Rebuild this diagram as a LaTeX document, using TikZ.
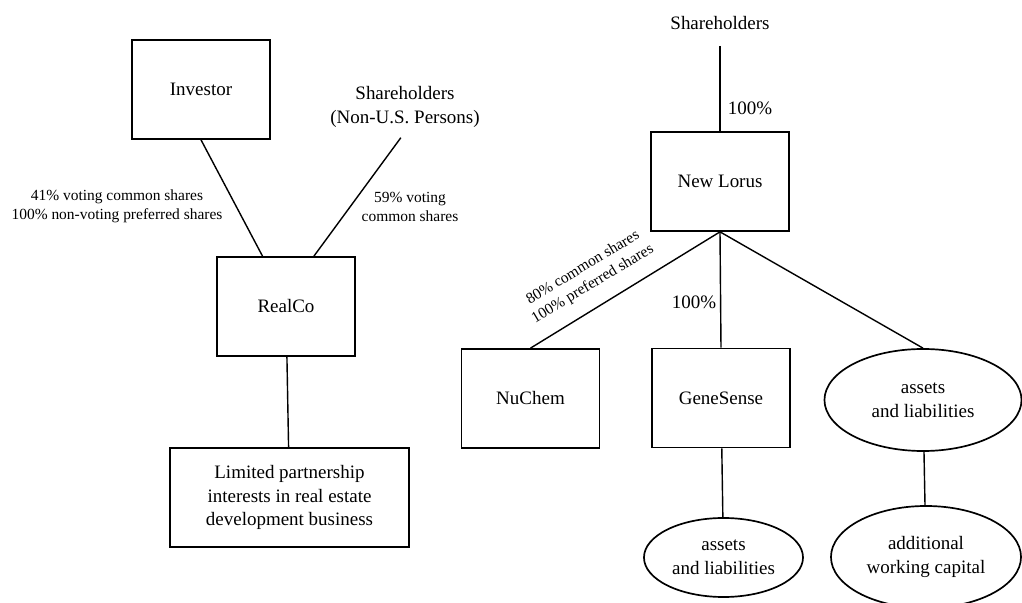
\documentclass[tikz,border=0pt]{standalone}
\usepackage{fontspec}
\setmainfont{Liberation Serif}
\usetikzlibrary{shapes.geometric}

\begin{document}
\begin{tikzpicture}[x=0.025cm,y=-0.025cm,
		box/.style={draw,line width=1.2pt,minimum width=3.45cm,minimum height=2.475cm,align=center,font=\fontsize{13.5}{17}\selectfont},
		oval/.style={draw,ellipse,line width=1.2pt,inner sep=0pt,align=center,font=\fontsize{13.5}{17}\selectfont},
		big/.style={align=center,font=\fontsize{13.5}{17}\selectfont},
		small/.style={align=center,font=\fontsize{11}{13.5}\selectfont},
		link/.style={line width=1pt}]
		
		\useasboundingbox (0,0) rectangle (1022,603);
		
		% left structure
		\node(inv) at (201,89.5)[box]{Investor};
		\node(sh1) at (405,106.5)[big]{Shareholders\\(Non-U.S. Persons)};
		\node(realco) at (286,306.5)[box]{RealCo};
		\node(lp) at (289.5,497.5)[box,minimum width=5.975cm]{Limited partnership\\interests in real estate\\development business};
		\node(l1) at (117,206.5)[small]{41\% voting common shares\\100\% non-voting preferred shares};
		\node(l2) at (410,206.5)[small]{59\% voting\\common shares};
		\draw[link] (inv.south) -- (realco.115);
		\draw[link, shorten <=5pt] (sh1.south) -- (realco.61);
		\draw[link] (realco) -- (lp);
		
		% right structure
		\node(sh2) at (720,23)[big]{Shareholders};
		\node(newlorus) at (720,181.5)[box]{New Lorus};
		\node(nuchem) at (530.5,398.5)[box]{NuChem};
		\node(genesense) at (721,398)[box]{GeneSense};
		\node(al1) at (923,400)[oval,minimum width=4.925cm,minimum height=2.55cm]{assets\\and liabilities};
		\node(al2) at (723.5,557.5)[oval,minimum width=3.975cm,minimum height=1.975cm]{assets\\and liabilities};
		\node(awc) at (926,557)[oval,minimum width=4.75cm,minimum height=2.55cm]{additional\\working capital};
		\node(p1) at (750,108)[big]{100\%};
		\node(p2) at (694,302)[big]{100\%};
		\node(p3) at (588,276)[small,rotate=31]{80\% common shares\\100\% preferred shares};
		\draw[link, shorten <=8pt] (sh2.south) -- (newlorus.north);
		\draw[link] (newlorus.south) -- (nuchem.north);
		\draw[link] (newlorus.south) -- (genesense.north);
		\draw[link] (newlorus.south) -- (al1.north);
		\draw[link] (genesense) -- (al2);
		\draw[link] (al1) -- (awc);
		
	\end{tikzpicture}
\end{document}
